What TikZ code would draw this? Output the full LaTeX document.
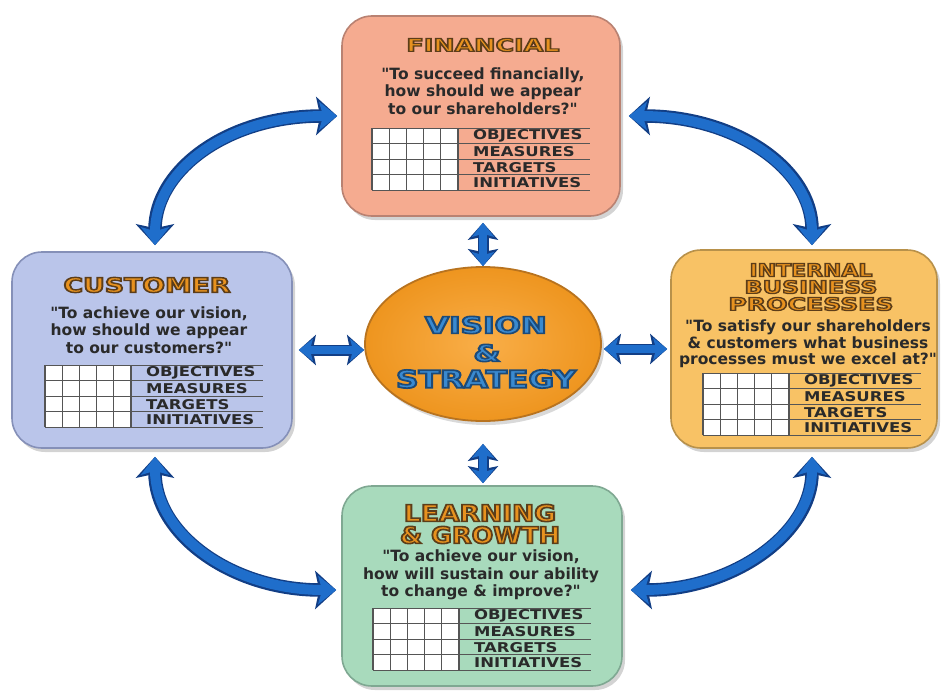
\documentclass[tikz,border=0pt]{standalone}
\usepackage{fontspec}
\setmainfont{DejaVu Sans}[Ligatures=TeXOff]
\usepackage{graphicx}
\usetikzlibrary{arrows.meta,shadows,calc,shapes.geometric}

% palette
\definecolor{finfill}{HTML}{F5AB90}
\definecolor{finedge}{HTML}{B98272}
\definecolor{cusfill}{HTML}{BAC5EA}
\definecolor{cusedge}{HTML}{8590B8}
\definecolor{intfill}{HTML}{F8C265}
\definecolor{intedge}{HTML}{B8914A}
\definecolor{lrnfill}{HTML}{A8DABC}
\definecolor{lrnedge}{HTML}{7FA892}
\definecolor{visin}{HTML}{F9AE48}
\definecolor{visout}{HTML}{EE951F}
\definecolor{visedge}{HTML}{B8731F}
\definecolor{hdorange}{HTML}{E8921F}
\definecolor{visblue}{HTML}{3A8AD0}
\definecolor{ablue}{HTML}{1F6ECB}
\definecolor{adark}{HTML}{123E85}
\definecolor{inktext}{HTML}{2A2A2A}
\definecolor{gridline}{HTML}{555555}

% text filled in the current colour and stroked in a dark outline colour (rgb triple)
\newcommand\outl[3]{\special{pdf:literal direct #1 RG 2 Tr #2 w}#3\special{pdf:literal direct 0 Tr 0.3985 w}}
% outlined heading text, sized to a given width and cap height
\newcommand\hd[4]{\resizebox{#1pt}{#2pt}{\outl{#3}{0.7}{#4}}}
% widened table label
\newcommand\lbl[1]{\scalebox{1.22}[1]{#1}}

\tikzset{
  panel/.style={rectangle, rounded corners=30pt, line width=1.6pt, inner sep=0pt,
    drop shadow={shadow xshift=3pt, shadow yshift=-4pt, opacity=.35}},
  head/.style={inner sep=0pt, text=hdorange, font=\bfseries},
  quote/.style={inner sep=0pt, align=center, text=inktext,
    font=\bfseries\fontsize{15.5}{17.5}\selectfont},
  lab/.style={anchor=west, inner sep=0pt, text=inktext,
    font=\bfseries\fontsize{13.5}{14}\selectfont},
  bigarrow/.style={line width=10pt, draw=ablue,
    arrows={Stealth[length=18pt,width=28pt,inset=4pt]-Stealth[length=18pt,width=28pt,inset=4pt]},
    preaction={draw=adark, line width=13.5pt,
      arrows={Stealth[length=21pt,width=38pt,inset=4pt]-Stealth[length=21pt,width=38pt,inset=4pt]}}},
  smallarrow/.style={line width=8pt, draw=ablue,
    arrows={Stealth[length=14pt,width=22pt,inset=3pt]-Stealth[length=14pt,width=22pt,inset=3pt]},
    preaction={draw=adark, line width=11pt,
      arrows={Stealth[length=17pt,width=30pt,inset=3pt]-Stealth[length=17pt,width=30pt,inset=3pt]}}},
  bsc table/.pic={
    \fill[white] (0,0) rectangle (86,62);
    \foreach \i in {1,...,4} \draw[gridline,line width=.9pt] (\i*17.2,0) -- (\i*17.2,62);
    \foreach \j in {0,...,4} \draw[gridline,line width=.9pt] (0,\j*15.5) -- (218,\j*15.5);
    \draw[gridline,line width=1.2pt] (0,0) -- (0,62);
    \draw[gridline,line width=1.8pt] (86,0) -- (86,62);
    \node[lab] (-obj) at (101,8.2) {\lbl{OBJECTIVES}};
    \node[lab] (-mea) at (101,23.7) {\lbl{MEASURES}};
    \node[lab] (-tar) at (101,39.2) {\lbl{TARGETS}};
    \node[lab] (-ini) at (101,54.7) {\lbl{INITIATIVES}};
  }
}

\begin{document}
\begin{tikzpicture}[x=1pt,y=-1pt]
\useasboundingbox (0,0) rectangle (941,690);

% perspective panels
\node[panel, fill=finfill, draw=finedge, minimum width=278, minimum height=200] (fin) at (481,116) {};
\node[panel, fill=cusfill, draw=cusedge, minimum width=280, minimum height=196] (cus) at (152,350) {};
\node[panel, fill=intfill, draw=intedge, minimum width=266, minimum height=198] (int) at (804,349) {};
\node[panel, fill=lrnfill, draw=lrnedge, minimum width=280, minimum height=200] (lrn) at (482,586) {};

% centre ellipse
\node[ellipse, inner sep=0pt, minimum width=236, minimum height=154, line width=1.8pt,
      draw=visedge, inner color=visin, outer color=visout,
      drop shadow={shadow xshift=3pt, shadow yshift=-4pt, opacity=.3}] (vis) at (483,344) {};
\node[inner sep=0pt, text=visblue, font=\bfseries] (vis1) at (486,325) {\hd{122}{17}{0.11 0.29 0.47}{VISION}};
\node[inner sep=0pt, text=visblue, font=\bfseries] (vis2) at (487,353) {\hd{27}{17}{0.11 0.29 0.47}{\&}};
\node[inner sep=0pt, text=visblue, font=\bfseries] (vis3) at (486,379) {\hd{180}{18}{0.11 0.29 0.47}{STRATEGY}};

% financial
\node[head] (finhd) at (483,45) {\hd{153}{13}{0.36 0.24 0.10}{FINANCIAL}};
\node[quote] (finq) at (483,91) {"To succeed financially,\\how should we appear\\to our shareholders?"};
\pic (fint) at (372,128) {bsc table};

% customer
\node[head] (cushd) at (147,285) {\hd{167}{15}{0.36 0.24 0.10}{CUSTOMER}};
\node[quote] (cusq) at (149,330) {"To achieve our vision,\\how should we appear\\to our customers?"};
\pic (cust) at (45,365) {bsc table};

% internal business processes
\node[head] (inthd1) at (811,270) {\hd{123}{13}{0.36 0.24 0.10}{INTERNAL}};
\node[head] (inthd2) at (811,287) {\hd{133}{13}{0.36 0.24 0.10}{BUSINESS}};
\node[head] (inthd3) at (811,304) {\hd{165}{13}{0.36 0.24 0.10}{PROCESSES}};
\node[quote, font=\bfseries\fontsize{15.5}{16.5}\selectfont] (intq) at (808,344) {"To satisfy our shareholders\\\& customers what business\\processes must we excel at?"};
\pic (intt) at (703,373) {bsc table};

% learning & growth
\node[head] (lrnhd1) at (480,513) {\hd{152}{17}{0.36 0.24 0.10}{LEARNING}};
\node[head] (lrnhd2) at (480,535) {\hd{160}{17}{0.36 0.24 0.10}{\& GROWTH}};
\node[quote] (lrnq) at (481,575) {"To achieve our vision,\\how will sustain our ability\\to change \& improve?"};
\pic (lrnt) at (373,608) {bsc table};

% links between the centre and the perspectives
\draw[smallarrow, shorten <=6pt] (cus.east) -- (cus.east -| vis.west);
\draw[smallarrow, shorten <=2pt, shorten >=3pt] (vis.east |- int.west) -- (int.west);
\draw[smallarrow, shorten >=6pt] (vis.north) -- (vis.north |- fin.south);
\draw[smallarrow, shorten <=22pt, shorten >=2pt] (vis.south) -- (vis.south |- lrn.north);

% cycle between the perspectives
\draw[bigarrow, shorten <=6pt, shorten >=4pt]
  ($(cus.north)+(3,0)$) .. controls +(0,-80) and +(-115,0) .. (fin.west);
\draw[bigarrow, shorten <=8pt, shorten >=4pt]
  (fin.east) .. controls +(115,0) and +(0,-80) .. ($(int.north)+(8,0)$);
\draw[bigarrow, shorten <=8pt, shorten >=5pt]
  ($(cus.south)+(3,0)$) .. controls +(0,85) and +(-110,0) .. ($(lrn.west)+(0,4)$);
\draw[bigarrow, shorten <=8pt, shorten >=8pt]
  ($(int.south)+(8,0)$) .. controls +(0,85) and +(110,0) .. ($(lrn.east)+(0,4)$);
\end{tikzpicture}
\end{document}
